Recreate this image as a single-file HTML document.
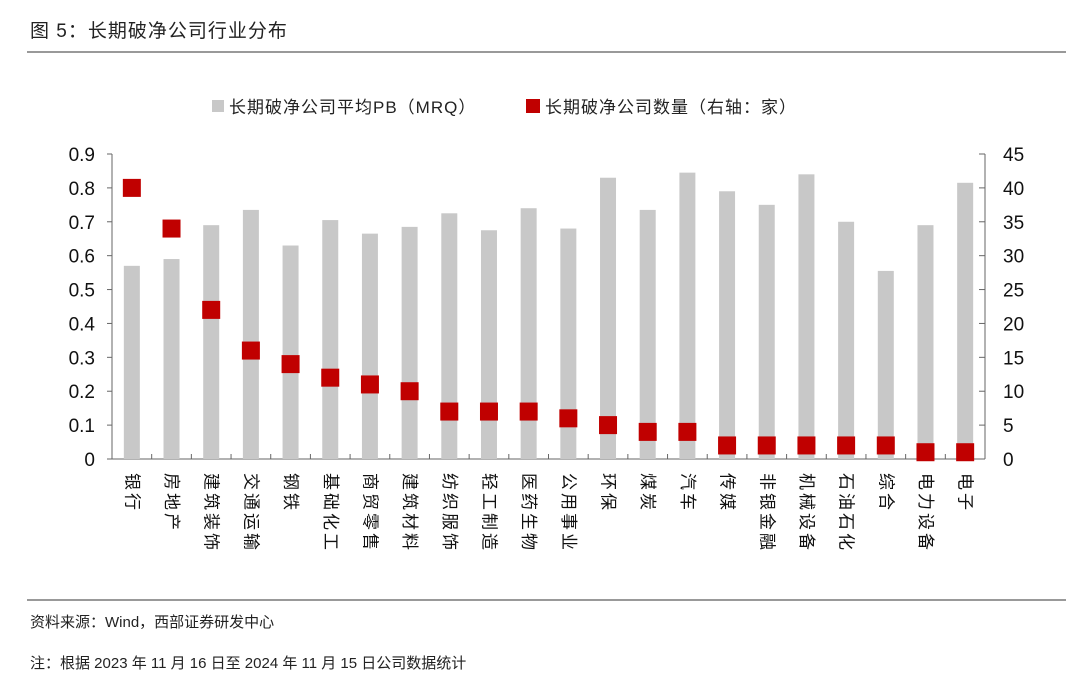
<!DOCTYPE html>
<html><head><meta charset="utf-8"><style>
body{margin:0;background:#fff;width:1080px;height:685px;overflow:hidden;font-family:"Liberation Sans","Noto Sans CJK SC",sans-serif;}
svg text{font-family:"Liberation Sans","Noto Sans CJK SC",sans-serif;}
</style></head><body>
<svg id="c" width="1080" height="685" xmlns="http://www.w3.org/2000/svg">
<text x="30" y="37" font-size="19" fill="#222" letter-spacing="1">图 5：长期破净公司行业分布</text>
<line x1="27" y1="52" x2="1066" y2="52" stroke="#333" stroke-width="1"/>
<g>
<rect x="212" y="100" width="12" height="12" fill="#c8c8c8"/>
<text x="229" y="113" font-size="17" fill="#222" letter-spacing="1">长期破净公司平均PB（MRQ）</text>
<rect x="526" y="99" width="14" height="14" fill="#c00000"/>
<text x="545" y="113" font-size="17" fill="#222" letter-spacing="1">长期破净公司数量（右轴：家）</text>
</g>
<g id="plot"></g>
<line x1="27" y1="600" x2="1066" y2="600" stroke="#333" stroke-width="1"/>
<text x="30" y="627" font-size="15" fill="#222">资料来源：Wind，西部证券研发中心</text>
<text x="30" y="668" font-size="15" fill="#222">注：根据 2023 年 11 月 16 日至 2024 年 11 月 15 日公司数据统计</text>
</svg>
<script>
const categories=["银行","房地产","建筑装饰","交通运输","钢铁","基础化工","商贸零售","建筑材料","纺织服饰","轻工制造","医药生物","公用事业","环保","煤炭","汽车","传媒","非银金融","机械设备","石油石化","综合","电力设备","电子"];
const pbValues=[0.57,0.59,0.69,0.735,0.63,0.705,0.665,0.685,0.725,0.675,0.74,0.68,0.83,0.735,0.845,0.79,0.75,0.84,0.70,0.555,0.69,0.815];
const countValues=[40,34,22,16,14,12,11,10,7,7,7,6,5,4,4,2,2,2,2,2,1,1];
const leftTicks=["0","0.1","0.2","0.3","0.4","0.5","0.6","0.7","0.8","0.9"];
const rightTicks=["0","5","10","15","20","25","30","35","40","45"];
const NS="http://www.w3.org/2000/svg";
const g=document.getElementById('plot');
const x0=112,x1=985,yB=459,yT=154;
const yL=v=>yB-(v/0.9)*(yB-yT);
const yR=v=>yB-(v/45)*(yB-yT);
const step=(x1-x0)/categories.length;
const xc=i=>x0+step*(i+0.5);
function mk(t,a){const e=document.createElementNS(NS,t);for(const k in a)e.setAttribute(k,a[k]);g.appendChild(e);return e;}
let e;
e=mk('line',{x1:x0,y1:yT,x2:x0,y2:yB,stroke:'#666'});


e=mk('line',{x1:x1,y1:yT,x2:x1,y2:yB,stroke:'#666'});


e=mk('line',{x1:x0,y1:yB,x2:x1,y2:yB,stroke:'#666'});


leftTicks.forEach((t)=>{const y=yL(parseFloat(t));
 e=mk('line',{x1:x0-5,y1:y,x2:x0,y2:y,stroke:'#666'});
 
 
 e=mk('text',{x:95,y:y+7,'font-size':19,'text-anchor':'end',fill:'#111'});e.textContent=t;
 
 });
rightTicks.forEach((t)=>{const y=yR(parseFloat(t));
 e=mk('line',{x1:x1-6,y1:y,x2:x1,y2:y,stroke:'#666'});
 
 
 e=mk('text',{x:1003,y:y+7,'font-size':19,fill:'#111'});e.textContent=t;
 
 });
categories.forEach((c,i)=>{const x=xc(i);
 e=mk('rect',{x:x-8,y:yL(pbValues[i]),width:16,height:yB-yL(pbValues[i]),fill:'#c8c8c8'});
 
 
 e=mk('line',{x1:x0+step*(i+1),y1:yB,x2:x0+step*(i+1),y2:yB-5,stroke:'#666'});
 
 
 e=mk('text',{x:x,y:473,'font-size':17,fill:'#111','letter-spacing':'3','dominant-baseline':'central',transform:'rotate(90 '+x+' 473)'});
 e.setAttribute('x',x);e.setAttribute('y',473);
 e.textContent=c;
 
 });
categories.forEach((c,i)=>{const x=xc(i),y=yR(countValues[i]);
 e=mk('rect',{x:x-9,y:y-9,width:18,height:18,fill:'#c00000'});
 
 });
</script>
</body></html>
